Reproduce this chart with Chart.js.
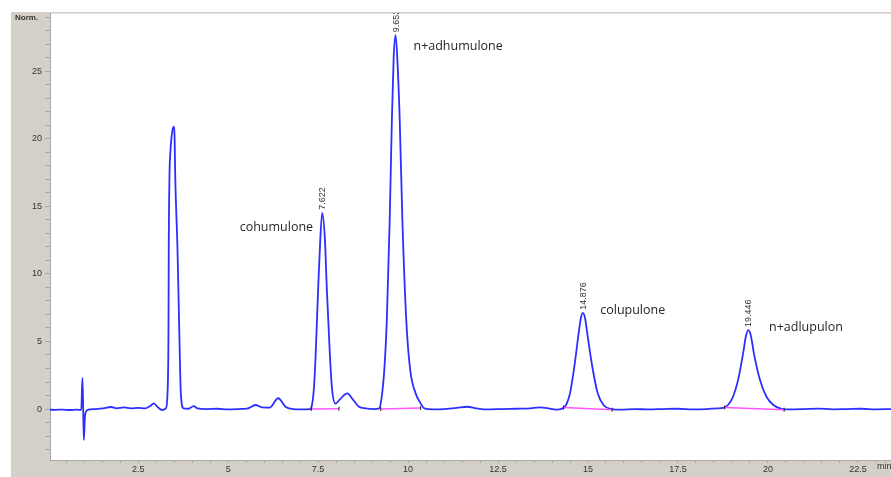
<!DOCTYPE html>
<html>
<head>
<meta charset="utf-8">
<script src="https://cdn.jsdelivr.net/npm/chart.js@4/dist/chart.umd.min.js"></script>
<style>
  html, body { margin: 0; padding: 0; background: #fff; }
  #wrap { width: 891px; height: 477px; }
</style>
</head>
<body>
<div id="wrap"><canvas id="myChart" width="891" height="477"></canvas></div>
<script>
// retention time (min) and detector signal (Norm.)
const retentionTimes = [
  0.00, 0.20, 0.40, 0.60, 0.80, 0.92, 0.95, 0.97, 0.99, 1.02, 1.06, 1.12,
  1.30, 1.50, 1.75, 1.90, 2.10, 2.30, 2.50, 2.70, 2.85, 2.93, 3.02, 3.16,
  3.27, 3.315, 3.343, 3.35, 3.37, 3.39, 3.43, 3.482, 3.51, 3.53, 3.593, 3.64, 3.686, 3.76,
  3.90, 4.04, 4.15, 4.40, 4.70, 5.00, 5.30, 5.55, 5.76, 5.95, 6.15, 6.39, 6.60, 6.80,
  7.05, 7.28, 7.32, 7.38, 7.43, 7.50, 7.56, 7.614, 7.69, 7.744, 7.83, 7.89, 7.985,
  8.10, 8.31, 8.47, 8.635, 8.82, 9.05, 9.20, 9.24, 9.28, 9.34, 9.41, 9.49, 9.55,
  9.60, 9.652, 9.70, 9.768, 9.842, 9.95, 10.06, 10.21, 10.35, 10.45, 10.70, 11.00,
  11.35, 11.64, 11.90, 12.20, 12.60, 13.00, 13.40, 13.65, 13.90, 14.10, 14.30, 14.39,
  14.50, 14.62, 14.74, 14.80, 14.856, 14.92, 14.98, 15.12, 15.27, 15.43, 15.65, 15.90,
  16.30, 16.70, 17.10, 17.50, 17.90, 18.30, 18.60, 18.76, 18.89, 19.03, 19.17, 19.31,
  19.39, 19.45, 19.52, 19.61, 19.78, 19.96, 20.15, 20.38, 20.60, 21.00, 21.40, 21.80,
  22.20, 22.60, 23.00, 23.43
];
const signal = [
  -0.05, -0.06, -0.04, -0.07, -0.05, -0.06, 2.30, 0.30, -2.30, -0.60, -0.15, -0.05,
  0.00, 0.05, 0.15, 0.05, 0.12, 0.05, 0.08, 0.05, 0.25, 0.42, 0.20, -0.07,
  0.05, 1.16, 6.10, 11.80, 17.20, 18.80, 20.20, 20.90, 20.30, 17.20, 11.80, 6.10, 1.16, 0.05,
  0.02, 0.22, 0.05, 0.00, 0.02, -0.03, 0.00, 0.05, 0.30, 0.12, 0.10, 0.80, 0.15, 0.00,
  -0.03, 0.00, 0.17, 1.40, 3.87, 8.80, 12.50, 14.52, 12.50, 8.80, 3.87, 1.40, 0.40,
  0.70, 1.16, 0.70, 0.17, 0.05, 0.00, 0.05, 0.42, 1.16, 2.88, 6.58, 13.98, 21.40,
  26.00, 27.66, 26.00, 21.40, 13.98, 6.58, 2.88, 1.16, 0.42, 0.05, -0.02, 0.00,
  0.08, 0.17, 0.05, -0.03, 0.00, 0.02, 0.05, 0.12, 0.05, -0.05, 0.05, 0.30,
  1.16, 3.13, 5.60, 6.70, 7.12, 6.70, 5.60, 3.13, 1.16, 0.30, 0.00, -0.05,
  0.00, -0.03, 0.00, 0.02, -0.02, 0.00, 0.05, 0.08, 0.30, 0.91, 2.14, 4.12,
  5.40, 5.84, 5.50, 4.12, 2.14, 0.91, 0.30, 0.02, -0.02, 0.00, 0.03, -0.02,
  0.00, 0.02, -0.02, 0.00
];

// integration baselines (start/end of each integrated peak)
const baseStart = [7.31, 9.24, 14.32, 18.80];
const baseEnd = [8.08, 10.35, 15.67, 20.45];
const baseStartY = [0.00, 0.00, 0.12, 0.12];
const baseEndY = [0.02, 0.08, -0.05, -0.05];

// peak apex labels and compound names
const peakTimes = [7.614, 9.652, 14.856, 19.45];
const peakHeights = [14.52, 27.66, 7.12, 5.84];
const peakLabels = ['7.622', '9.652', '14.876', '19.446'];
const compoundNames = ['cohumulone', 'n+adhumulone', 'colupulone', 'n+adlupulon'];
const nameTimes = [5.32, 10.15, 15.34, 20.03];
const nameValues = [13.4, 26.85, 7.32, 6.07];

const xMin = 0.05, xMax = 23.42;
const yMin = -3.77, yMax = 29.3;

const trace = retentionTimes.map((t, i) => ({ x: t, y: signal[i] }));
const baselines = [];
baseStart.forEach((s, i) => {
  baselines.push({ x: s, y: baseStartY[i] });
  baselines.push({ x: baseEnd[i], y: baseEndY[i] });
  baselines.push({ x: baseEnd[i] + 0.01, y: null });
});

const GRAY = '#d4d0c8';

const frame = {
  id: 'frame',
  beforeDraw(chart) {
    const ctx = chart.ctx, a = chart.chartArea;
    ctx.save();
    ctx.fillStyle = '#fff';
    ctx.fillRect(0, 0, chart.width, chart.height);
    ctx.fillStyle = GRAY;
    ctx.fillRect(11, 12, chart.width - 11, chart.height - 12);
    ctx.fillStyle = '#fff';
    ctx.fillRect(a.left, a.top, a.right - a.left, a.bottom - a.top);
    ctx.strokeStyle = '#e4e4e4';
    ctx.lineWidth = 1;
    ctx.beginPath();
    ctx.moveTo(a.left, a.top + 0.5);
    ctx.lineTo(a.right, a.top + 0.5);
    ctx.stroke();
    ctx.fillStyle = '#333';
    ctx.font = 'bold 8px "Liberation Sans", Arial, sans-serif';
    ctx.textBaseline = 'middle';
    ctx.textAlign = 'left';
    ctx.fillText('Norm.', 15, 18);
    ctx.font = '9px "Liberation Sans", Arial, sans-serif';
    ctx.fillText('min', 877, 467);
    ctx.restore();
  },
  afterDatasetsDraw(chart) {
    const ctx = chart.ctx, a = chart.chartArea;
    const xs = chart.scales.x, ys = chart.scales.y;
    ctx.save();
    ctx.beginPath();
    ctx.rect(a.left, a.top, a.right - a.left, a.bottom - a.top);
    ctx.clip();
    ctx.fillStyle = '#333';
    ctx.font = '9px "Liberation Sans", Arial, sans-serif';
    peakLabels.forEach((lab, i) => {
      const px = xs.getPixelForValue(peakTimes[i]);
      const py = ys.getPixelForValue(peakHeights[i]);
      ctx.save();
      ctx.translate(px + 0.5, py - 3);
      ctx.rotate(-Math.PI / 2);
      ctx.textAlign = 'left';
      ctx.textBaseline = 'middle';
      ctx.fillText(lab, 0, 0);
      ctx.restore();
    });
    ctx.font = '12.5px "Open Sans", sans-serif';
    ctx.fillStyle = '#262626';
    ctx.textAlign = 'left';
    ctx.textBaseline = 'middle';
    compoundNames.forEach((n, i) => {
      ctx.fillText(n, xs.getPixelForValue(nameTimes[i]), ys.getPixelForValue(nameValues[i]));
    });
    ctx.restore();
  }
};

new Chart(document.getElementById('myChart'), {
  type: 'line',
  data: {
    datasets: [
      {
        label: 'baseline',
        data: baselines,
        borderColor: '#ff55ff',
        borderWidth: 1.5,
        spanGaps: false,
        pointStyle: 'line',
        pointRotation: 90,
        pointRadius: 2,
        pointBorderColor: '#222',
        pointBorderWidth: 1,
        order: 0
      },
      {
        label: 'signal',
        data: trace,
        borderColor: '#2e2eff',
        borderWidth: 1.8,
        cubicInterpolationMode: 'monotone',
        pointRadius: 0,
        fill: false,
        order: 1
      }
    ]
  },
  options: {
    responsive: false,
    animation: false,
    layout: { autoPadding: false, padding: { left: 11, top: 13, right: 0, bottom: 0 } },
    plugins: { legend: { display: false }, tooltip: { enabled: false } },
    scales: {
      x: {
        type: 'linear',
        min: xMin,
        max: xMax,
        afterFit(scale) { scale.height = 17; scale.paddingLeft = 0; scale.paddingRight = 0; },
        border: { display: true, color: '#a8a8a8', width: 1 },
        grid: { drawOnChartArea: false, drawTicks: true, tickLength: 3, color: '#a8a8a8' },
        ticks: {
          stepSize: 0.5,
          autoSkip: false,
          maxRotation: 0,
          includeBounds: false,
          padding: 1,
          color: '#333',
          font: { family: '"Liberation Sans", Arial, sans-serif', size: 9 },
          callback: v => (v > 0 && Math.abs(v / 2.5 - Math.round(v / 2.5)) < 1e-6) ? String(v) : ''
        }
      },
      y: {
        min: yMin,
        max: yMax,
        afterFit(scale) { scale.width = 39; scale.paddingTop = 0; scale.paddingBottom = 0; },
        border: { display: true, color: '#a8a8a8', width: 1 },
        grid: { drawOnChartArea: false, drawTicks: true, tickLength: 5, color: '#a8a8a8' },
        ticks: {
          stepSize: 1,
          autoSkip: false,
          includeBounds: false,
          padding: 3,
          color: '#333',
          font: { family: '"Liberation Sans", Arial, sans-serif', size: 9 },
          callback: v => (v % 5 === 0) ? String(v) : ''
        }
      }
    }
  },
  plugins: [frame]
});
</script>
</body>
</html>
